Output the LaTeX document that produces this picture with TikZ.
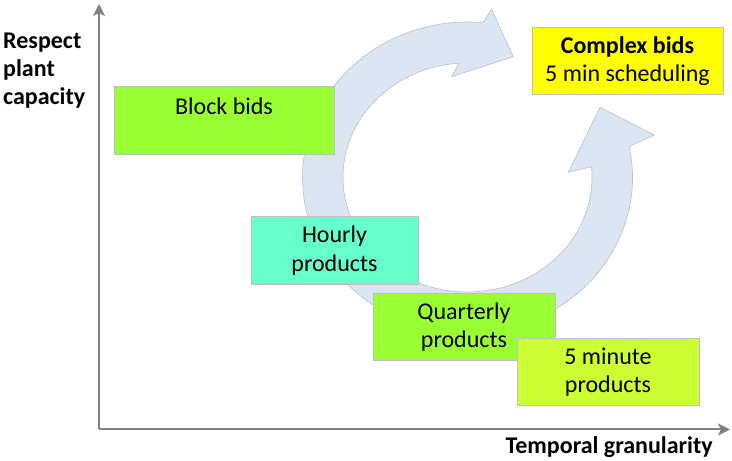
\documentclass[tikz,border=0pt]{standalone}
\usepackage{fontspec}
\setmainfont{Carlito}
\usetikzlibrary{arrows.meta,positioning,calc}
\definecolor{axiscolor}{RGB}{128,128,128}
\definecolor{cyclecolor}{RGB}{220,230,242}
\definecolor{cycleedge}{RGB}{185,192,202}
\definecolor{blockcolor}{RGB}{153,255,51}
\definecolor{hourcolor}{RGB}{102,255,204}
\definecolor{quartcolor}{RGB}{153,255,51}
\definecolor{fivecolor}{RGB}{204,255,51}
\definecolor{complexcolor}{RGB}{255,255,0}
\tikzset{
  bigfont/.style  = {font=\fontsize{24}{28.5}\selectfont},
  bidbox/.style   = {rectangle, draw=black!25, line width=0.75pt, inner sep=0pt,
                     minimum height=67.5, align=center, bigfont},
  axisline/.style = {-{Stealth[length=12pt,width=12pt,inset=3pt]},
                     line width=2pt, draw=axiscolor},
  axislabel/.style = {font=\fontsize{24}{28}\selectfont\bfseries, inner sep=0pt},
  cyclearrow/.style = {fill=cyclecolor, draw=cycleedge, line width=0.6pt}
}

\begin{document}
\begin{tikzpicture}[x=1pt,y=1pt]
\useasboundingbox (0,0) rectangle (732,461);

% --- axes ---
\coordinate (orig) at (99,31.5);
\coordinate (ytip) at (99,457);
\coordinate (xtip) at (730,31.5);
\draw[axisline] (orig) -- (ytip);
\draw[axisline] (orig) -- (xtip);
\node[axislabel, anchor=north west, align=left] (ylabel) at (3,428) {Respect\\plant\\capacity};
\node[axislabel, anchor=base east] (xlabel) at (713,7) {Temporal granularity};

% --- cycle arrow, two heads ---
\coordinate (mid) at (467.5,283.5);
\draw[cyclearrow] ($(mid)+(84.6:165 and 155.5)$) -- (491.7,451.7) -- (513.3,404.3)
  -- (451.7,384.3) -- ($(mid)+(94:124.5 and 114.5)$)
  arc[start angle=94, end angle=365.4, x radius=124.5, y radius=114.5]
  -- (568.3,288.7) -- (600,353.7) -- (654.3,326)
  -- ($(mid)+(11.5:165 and 155.5)$)
  arc[start angle=11.5, end angle=-275.4, x radius=165, y radius=155.5] -- cycle;

% --- bid boxes ---
\node[bidbox, fill=blockcolor, minimum width=220, text height=27.7pt, text depth=39.3pt]
  (block) at (224,340.5) {Block bids};
\foreach \nm/\x/\y/\w/\col/\txt in {hourly/334.5/210.5/167/hourcolor/{Hourly\\products},
    quarterly/464/134/182/quartcolor/{Quarterly\\products},
    fivemin/608/89/182/fivecolor/{5 minute\\products}}{
  \node[bidbox, fill=\col, minimum width=\w] (\nm) at (\x,\y) {\txt};
}
\node[bidbox, fill=complexcolor, minimum width=191] (complex) at (627.5,400)
  {\textbf{Complex bids}\\5 min scheduling};

\end{tikzpicture}
\end{document}
